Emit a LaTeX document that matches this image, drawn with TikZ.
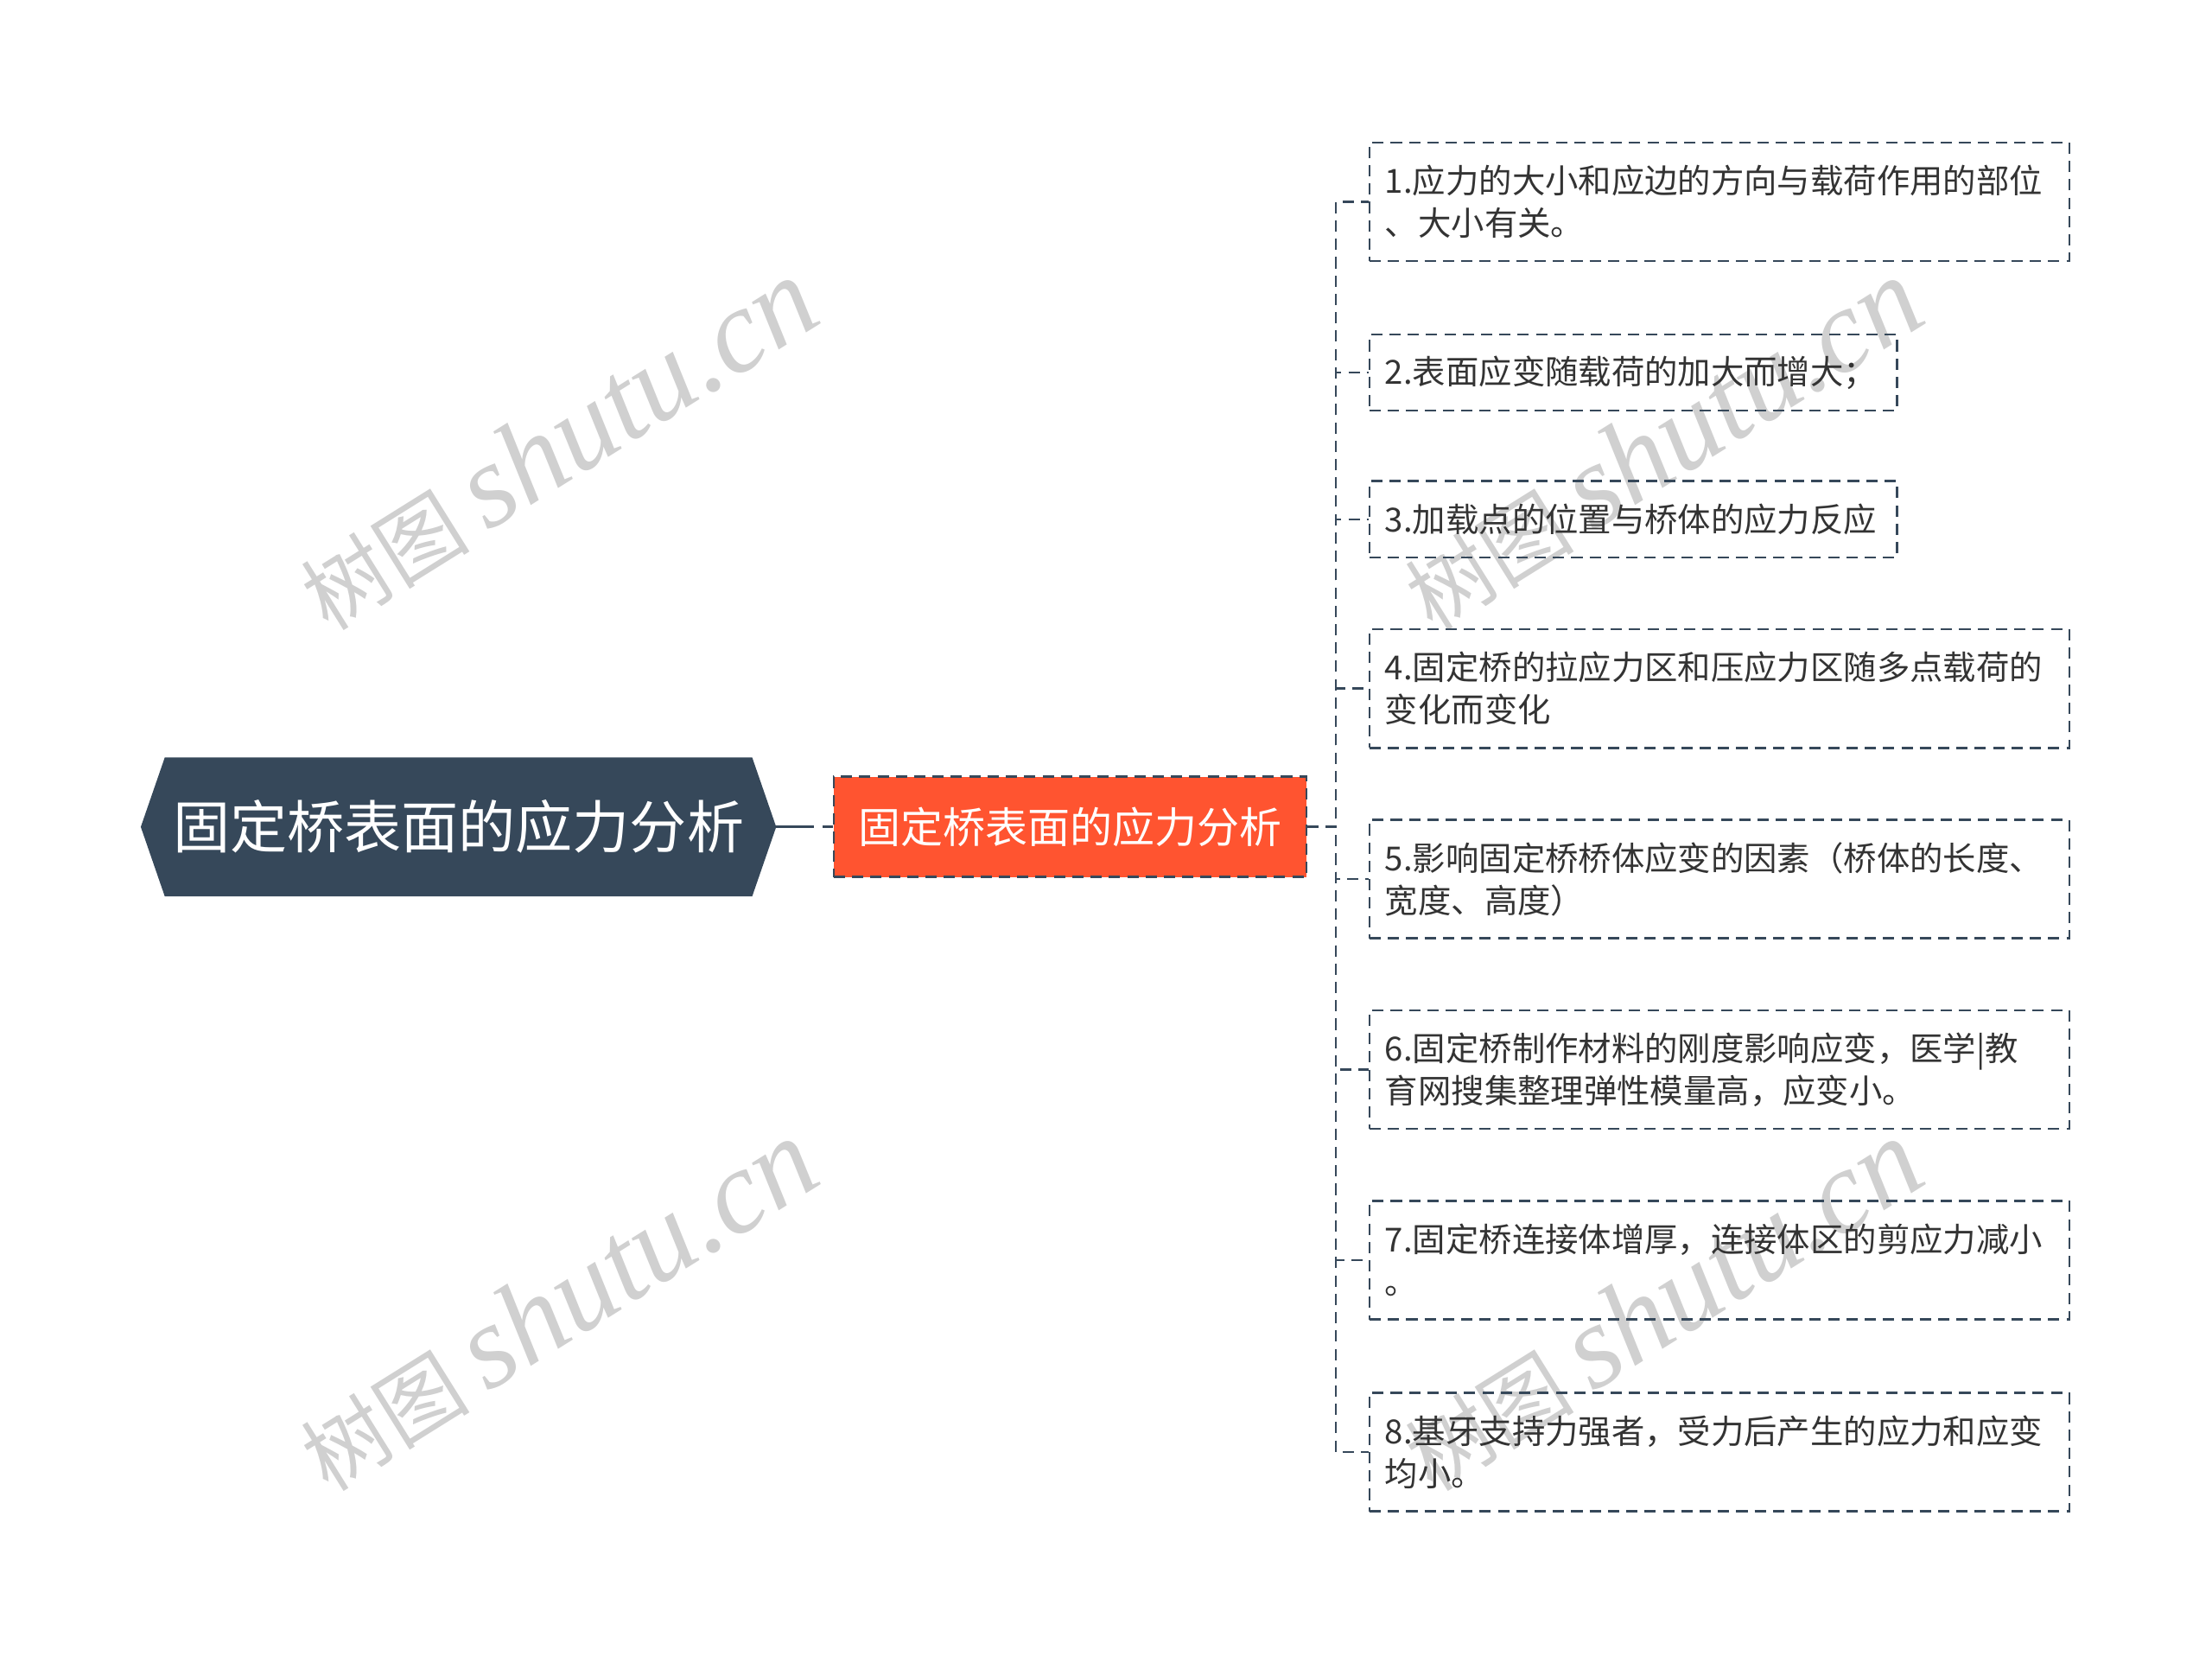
\documentclass[tikz,border=0pt]{standalone}
\usepackage{fontspec}
\setmainfont{Noto Sans CJK SC}
\newfontfamily\wmfont{Liberation Serif}
\usetikzlibrary{positioning,backgrounds}
\definecolor{slate}{HTML}{36485A}
\definecolor{subred}{HTML}{FF5430}
\definecolor{txt}{HTML}{333333}
\definecolor{wmgray}{HTML}{D0D0D0}
\begin{document}
\begin{tikzpicture}[x=1pt,y=-1pt,
	link/.style={slate,line width=1.6pt,dash pattern=on 8pt off 5pt},
	leaf/.style={draw=slate,line width=1.6pt,dash pattern=on 8pt off 5pt,anchor=west,align=left,text=txt,
		inner xsep=11pt,font=\fontsize{23.5}{30}\selectfont},
	wide/.style={text width=474pt,minimum height=84pt},
	narrow/.style={text width=352pt,minimum height=54pt},
	wmark/.style={wmgray,rotate=32,font=\fontsize{60}{80}\selectfont}]
	\useasboundingbox (0,0) rectangle (1568,1173);
	\foreach \x/\y/\n in {395/315/w1,395/925/w2,1178/315/w3,1178/925/w4}
		\node[wmark] (\n) at (\x,\y) {树图 {\wmfont\itshape\fontsize{84}{90}\selectfont shutu.cn}};
	\node[text=white,font=\fontsize{40.5}{50}\selectfont,minimum width=450pt,minimum height=98pt] (root) at (325,586) {固定桥表面的应力分析};
	\begin{scope}[on background layer]
		\fill[slate] (root.west) -- ([xshift=17pt]root.north west) -- ([xshift=-17pt]root.north east) -- (root.east)
			-- ([xshift=-17pt]root.south east) -- ([xshift=17pt]root.south west) -- cycle;
	\end{scope}
	\node[fill=subred,draw=slate,line width=1.6pt,dash pattern=on 8pt off 5pt,text=white,font=\fontsize{30}{36}\selectfont,
		minimum width=335pt,minimum height=71pt] (sub) at (758.5,586) {固定桥表面的应力分析};
	\draw[slate,line width=1.6pt,dash pattern=on 27pt off 6pt on 10pt] (root.east) -- (sub.west);
	\coordinate (j) at (947,586);
	\node[leaf,wide] (c1) at (970,143) {1.应力的大小和应边的方向与载荷作用的部位\\、大小有关。};
	\node[leaf,narrow] (c2) at (970,264) {2.表面应变随载荷的加大而增大；};
	\node[leaf,narrow] (c3) at (970,368) {3.加载点的位置与桥体的应力反应};
	\node[leaf,wide] (c4) at (970,488) {4.固定桥的拉应力区和压应力区随多点载荷的\\变化而变化};
	\node[leaf,wide] (c5) at (970,623) {5.影响固定桥桥体应变的因素（桥体的长度、\\宽度、高度）};
	\node[leaf,wide] (c6) at (970,758) {6.固定桥制作材料的刚度影响应变，医学|教\\育网搜集整理弹性模量高，应变小。};
	\node[leaf,wide] (c7) at (970,893) {7.固定桥连接体增厚，连接体区的剪应力减小\\。};
	\node[leaf,wide] (c8) at (970,1029) {8.基牙支持力强者，受力后产生的应力和应变\\均小。};
	\foreach \i in {1,...,8}
		\draw[link] (sub.east) -- (j) |- (c\i.west);
\end{tikzpicture}
\end{document}
